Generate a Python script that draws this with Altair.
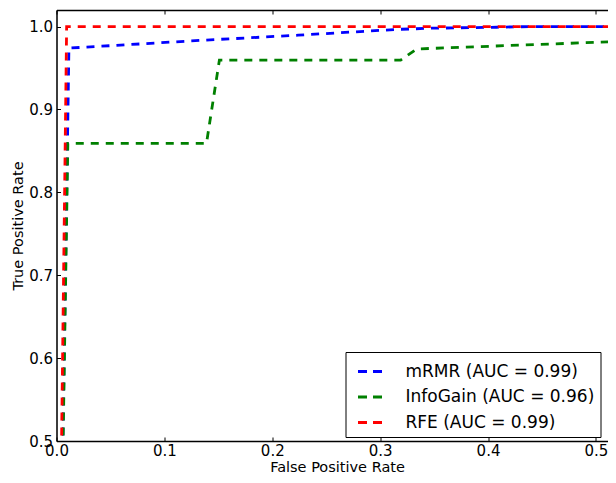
import altair as alt
import pandas as pd

series = ["mRMR (AUC = 0.99)", "InfoGain (AUC = 0.96)", "RFE (AUC = 0.99)"]
colors = ["#0000ff", "#008000", "#ff0000"]

mrmr_fpr = [0.0, 0.0115, 0.137, 0.224, 0.316, 0.346, 0.408, 0.438, 1.0]
mrmr_tpr = [0.0, 0.974, 0.9836, 0.9896, 0.9966, 0.998, 0.9992, 1.0, 1.0]

info_fpr = [0.0, 0.0105, 0.139, 0.151, 0.319, 0.334, 0.52, 1.0]
info_tpr = [0.0, 0.859, 0.859, 0.9596, 0.9596, 0.973, 0.982, 1.0]

rfe_fpr = [0.0, 0.0094, 1.0]
rfe_tpr = [0.0, 1.0, 1.0]

x_ticks = [0.0, 0.1, 0.2, 0.3, 0.4, 0.5]
y_ticks = [0.5, 0.6, 0.7, 0.8, 0.9, 1.0]
x_domain = [0.0, 0.52]
y_domain = [0.5, 1.02]

W, H = 561, 431
FONT = "DejaVu Sans"


def frame(name, fpr, tpr):
    return pd.DataFrame({"series": name, "fpr": fpr, "tpr": tpr, "k": list(range(len(fpr)))})


dfs = [frame(series[0], mrmr_fpr, mrmr_tpr),
       frame(series[1], info_fpr, info_tpr),
       frame(series[2], rfe_fpr, rfe_tpr)]

xscale = alt.Scale(domain=x_domain, nice=False, zero=False)
yscale = alt.Scale(domain=y_domain, nice=False, zero=False)

color = alt.Color(
    "series:N",
    scale=alt.Scale(domain=series, range=colors),
    legend=alt.Legend(
        title=None, orient="none", legendX=289, legendY=342, direction="vertical",
        padding=6, strokeColor="black", fillColor="white", cornerRadius=0,
        symbolType="stroke", symbolStrokeWidth=2.8, symbolDash=[9, 6], symbolSize=576,
        symbolOffset=5, labelOffset=22, labelFontSize=17, labelFont=FONT,
        labelColor="black", rowPadding=3.5, labelLimit=400,
    ),
)

x_main = alt.X("fpr:Q", scale=xscale, title="False Positive Rate",
               axis=alt.Axis(values=x_ticks, format=".1f", ticks=False, domain=True,
                             domainColor="black", domainWidth=1.5, grid=False,
                             labelPadding=2, labelFontSize=15, labelFont=FONT, labelColor="black",
                             labelFlush=False, titleFontSize=14.5, titleFont=FONT,
                             titleFontWeight="normal", titleColor="black", titlePadding=2))
y_main = alt.Y("tpr:Q", scale=yscale, title="True Positive Rate",
               axis=alt.Axis(values=y_ticks, format=".1f", ticks=False, domain=True,
                             domainColor="black", domainWidth=1.5, grid=False,
                             labelPadding=4, labelFontSize=15, labelFont=FONT, labelColor="black",
                             labelFlush=False, titleFontSize=14.5, titleFont=FONT,
                             titleFontWeight="normal", titleColor="black", titlePadding=3))

layers = []
for df in dfs:
    layers.append(
        alt.Chart(df).mark_line(clip=True, strokeWidth=2.8, strokeDash=[8, 7])
        .encode(x=x_main, y=y_main, color=color, order="k:Q")
    )


def tick_axis(orient, offset, values, domain=False):
    return alt.Axis(orient=orient, offset=offset, values=values, labels=False, domain=domain,
                    domainColor="black", domainWidth=1.5,
                    grid=False, ticks=True, tickSize=4, tickColor="black", tickWidth=1, title=None)


tick_layer1 = alt.Chart(dfs[2]).mark_line(opacity=0, clip=True).encode(
    x=alt.X("fpr:Q", scale=xscale, axis=tick_axis("top", -H, x_ticks)),
    y=alt.Y("tpr:Q", scale=yscale, axis=tick_axis("right", -W, y_ticks)),
)
tick_layer2 = alt.Chart(dfs[2]).mark_line(opacity=0, clip=True).encode(
    x=alt.X("fpr:Q", scale=xscale, axis=tick_axis("bottom", -H, x_ticks, domain=True)),
    y=alt.Y("tpr:Q", scale=yscale, axis=None),
)

lines = alt.layer(*layers)
chart = (
    alt.layer(lines, tick_layer1, tick_layer2)
    .resolve_axis(x="independent", y="independent")
    .properties(width=W, height=H, autosize=alt.AutoSizeParams(type="none"),
                padding={"left": 48.5, "top": 2, "right": -9.5, "bottom": 34})
    .configure_view(stroke=None)
    .configure(background="white")
)

chart.save("out.html", embed_options={"renderer": "svg", "actions": False})
